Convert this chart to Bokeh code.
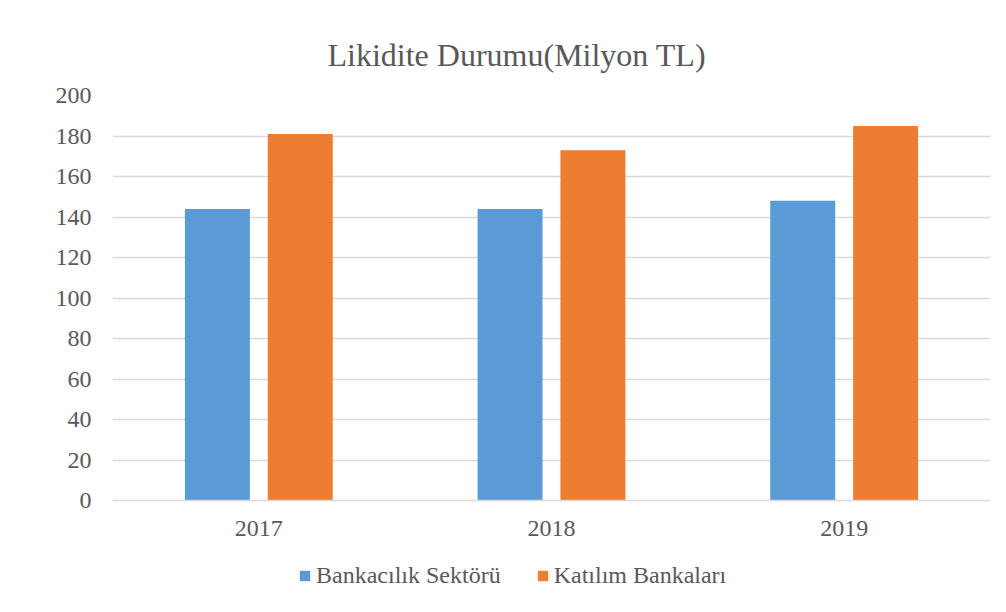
from bokeh.plotting import figure
from bokeh.models import FactorRange, Legend, LegendItem, ColumnDataSource, Range1d
from bokeh.layouts import column
from bokeh.transform import dodge
from bokeh.embed import file_html
from bokeh.resources import INLINE

years = ["2017", "2018", "2019"]
bankacilik = [144, 144, 148]
katilim = [181, 173, 185]
y_ticks = [0, 20, 40, 60, 80, 100, 120, 140, 160, 180, 200]
series_names = ["Bankacılık Sektörü", "Katılım Bankaları"]

FONT = "Liberation Serif"
TXT = "#595959"
GRID = "#d9d9d9"
BLUE = "#5B9BD5"
ORANGE = "#ED7D31"

src = ColumnDataSource(dict(year=years, bank=bankacilik, kat=katilim))

p = figure(width=990, height=545, x_range=FactorRange(factors=years),
           y_range=Range1d(0, 200), output_backend="svg", toolbar_location=None,
           title="Likidite Durumu(Milyon TL)",
           min_border_left=112, min_border_right=0, min_border_top=95, min_border_bottom=45)

p.title.align = "left"
p.title.offset = 215
p.title.text_font = FONT
p.title.text_font_size = "32px"
p.title.text_font_style = "normal"
p.title.text_color = TXT
p.title.standoff = 46

p.vbar(x=dodge("year", -0.1416, range=p.x_range), top="bank", width=0.222,
       source=src, fill_color=BLUE, line_color=None)
p.vbar(x=dodge("year", 0.1416, range=p.x_range), top="kat", width=0.222,
       source=src, fill_color=ORANGE, line_color=None)

p.outline_line_color = None
p.xgrid.grid_line_color = None
p.ygrid.grid_line_color = GRID
p.ygrid.grid_line_width = 1.5

p.yaxis.ticker = y_ticks
p.yaxis.axis_line_color = None
p.yaxis.major_tick_line_color = None
p.yaxis.minor_tick_line_color = None
p.yaxis.major_label_text_font = FONT
p.yaxis.major_label_text_font_size = "24px"
p.yaxis.major_label_text_color = TXT
p.yaxis.major_label_standoff = 15

p.xaxis.axis_line_color = GRID
p.xaxis.axis_line_width = 1.5
p.xaxis.major_tick_line_color = None
p.xaxis.minor_tick_line_color = None
p.xaxis.major_label_text_font = FONT
p.xaxis.major_label_text_font_size = "24px"
p.xaxis.major_label_text_color = TXT
p.xaxis.major_label_standoff = 14

# legend strip (separate figure so the legend sits below the axis)
p2 = figure(width=990, height=51, x_range=p.x_range, y_range=Range1d(1000, 1001),
            output_backend="svg", toolbar_location=None,
            x_axis_type=None, y_axis_type=None,
            min_border_left=0, min_border_right=0, min_border_top=0, min_border_bottom=0)
p2.outline_line_color = None
p2.grid.visible = False
l1 = p2.vbar(x="year", top="bank", width=0.222, source=src, fill_color=BLUE, line_color=None)
l2 = p2.vbar(x="year", top="kat", width=0.222, source=src, fill_color=ORANGE, line_color=None)

legend = Legend(items=[LegendItem(label=series_names[0], renderers=[l1]),
                       LegendItem(label=series_names[1], renderers=[l2])],
                orientation="horizontal", location=(186, 7))
legend.label_text_font = FONT
legend.label_text_font_size = "24px"
legend.label_text_color = TXT
legend.label_height = 24
legend.glyph_width = 13
legend.glyph_height = 13
legend.label_standoff = 5
legend.spacing = 35
legend.padding = 0
legend.margin = 0
legend.border_line_color = None
legend.background_fill_alpha = 0
p2.add_layout(legend, "center")

layout = column(p, p2, spacing=0)
open("out.html", "w").write(file_html(layout, INLINE))
